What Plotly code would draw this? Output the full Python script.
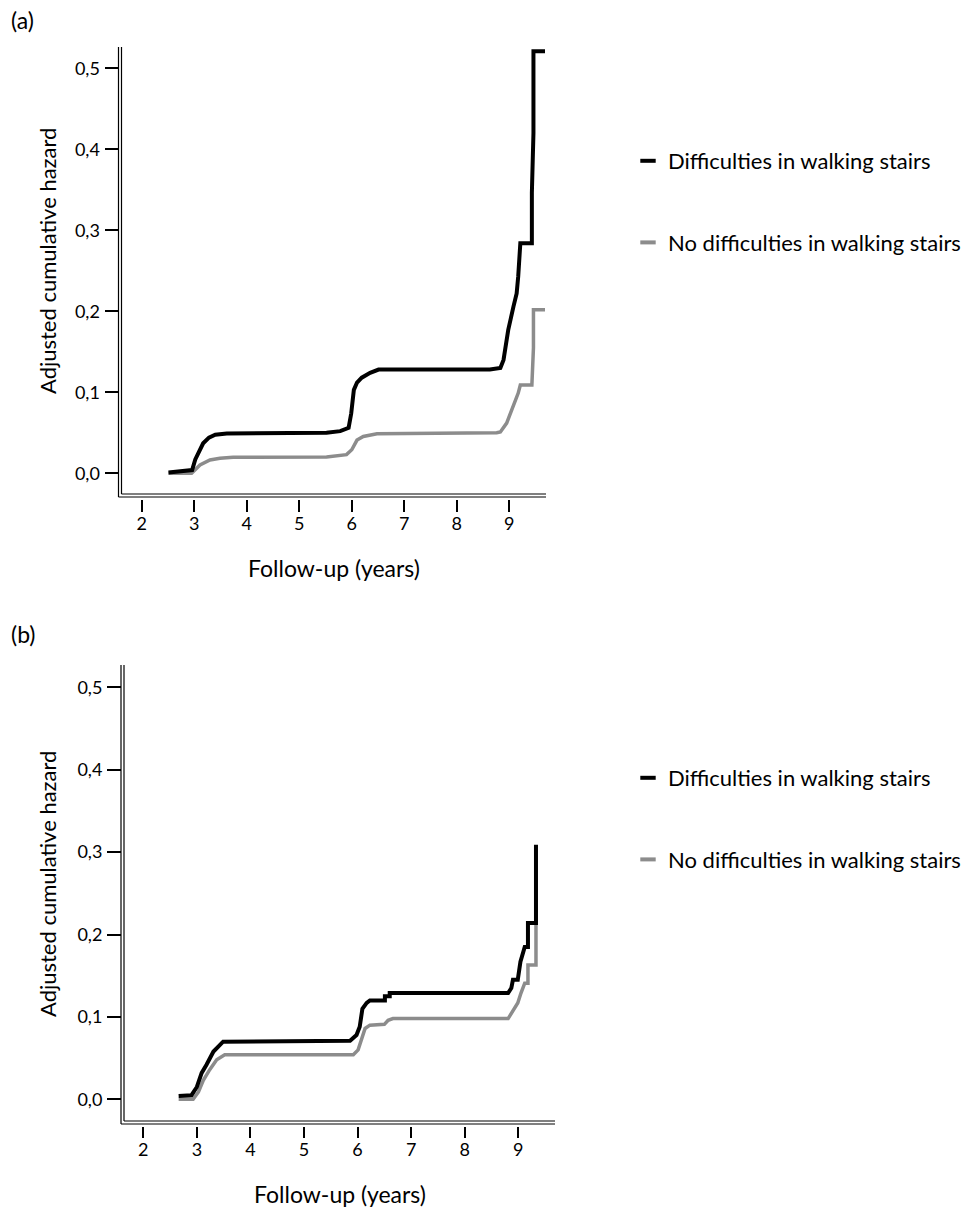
import plotly.graph_objects as go

W, H = 968, 1209

# ---------------- data ----------------
legend_names = ["Difficulties in walking stairs", "No difficulties in walking stairs"]
x_ticks = [2, 3, 4, 5, 6, 7, 8, 9]
y_ticks = [0.0, 0.1, 0.2, 0.3, 0.4, 0.5]

# Panel (a)
a_diff_years = [2.51, 2.91, 2.96, 3.02, 3.10, 3.17, 3.28, 3.40, 3.62, 5.52, 5.78, 5.94, 5.99, 6.04, 6.10,
                6.19, 6.35, 6.51, 8.63, 8.83, 8.89, 8.98, 9.08, 9.14, 9.17, 9.21, 9.43, 9.43, 9.46, 9.46, 9.68]
a_diff_haz = [0.001, 0.003, 0.004, 0.017, 0.028, 0.037, 0.044, 0.0475, 0.049, 0.050, 0.052, 0.056, 0.074,
              0.103, 0.112, 0.118, 0.124, 0.128, 0.128, 0.130, 0.140, 0.177, 0.206, 0.222, 0.243, 0.284,
              0.284, 0.346, 0.420, 0.521, 0.521]
a_nodiff_years = [2.51, 2.95, 3.11, 3.30, 3.49, 3.74, 5.52, 5.90, 6.00, 6.10, 6.22, 6.48, 8.76, 8.83, 8.95,
                  9.08, 9.17, 9.21, 9.43, 9.46, 9.46, 9.68]
a_nodiff_haz = [0.0, 0.0, 0.0103, 0.0165, 0.0186, 0.0198, 0.020, 0.023, 0.029, 0.041, 0.0455, 0.0488, 0.050,
                0.051, 0.062, 0.0825, 0.099, 0.109, 0.109, 0.155, 0.202, 0.202]

# Panel (b)
b_diff_years = [2.66, 2.90, 3.00, 3.09, 3.18, 3.31, 3.40, 3.49, 5.86, 5.98, 6.04, 6.09, 6.17, 6.23, 6.51,
                6.51, 6.60, 6.60, 8.81, 8.87, 8.90, 8.99, 9.04, 9.09, 9.12, 9.18, 9.18, 9.33, 9.33]
b_diff_haz = [0.004, 0.005, 0.015, 0.032, 0.042, 0.058, 0.064, 0.070, 0.071, 0.078, 0.088, 0.110, 0.117,
              0.120, 0.120, 0.125, 0.125, 0.129, 0.129, 0.135, 0.145, 0.145, 0.167, 0.177, 0.185, 0.185,
              0.214, 0.214, 0.309]
b_nodiff_years = [2.66, 2.93, 3.03, 3.12, 3.24, 3.37, 3.52, 5.92, 6.01, 6.07, 6.14, 6.23, 6.50, 6.57, 6.66,
                  8.81, 8.90, 8.99, 9.05, 9.12, 9.18, 9.18, 9.33, 9.33]
b_nodiff_haz = [0.0, 0.0, 0.009, 0.023, 0.036, 0.048, 0.054, 0.054, 0.060, 0.072, 0.086, 0.090, 0.091,
                0.096, 0.098, 0.098, 0.108, 0.117, 0.129, 0.141, 0.141, 0.163, 0.163, 0.238]

# ---------------- styling ----------------
FONT = "Lato"
BLACK = "#000000"
GREY = "#8c8c8c"


def fx(p):
    return p / W


def fy(p):
    return 1 - p / H


panels = [
    dict(key="", lab="(a)", lab_y=20, inner_x=121.5, outer_x=118.5, top=47, inner_y=494, outer_y=497,
         right=546, xr=[1.615, 9.699], yr=[-0.0256, 0.5263], xtick_pos=499, xticklen=12,
         xtitle_y=568, ytitle_y=261, leg_y=140,
         series=[(a_nodiff_years, a_nodiff_haz, GREY, 3.5), (a_diff_years, a_diff_haz, BLACK, 4)]),
    dict(key="2", lab="(b)", lab_y=634, inner_x=124, outer_x=121, top=665, inner_y=1121, outer_y=1124,
         right=555, xr=[1.640, 9.685], yr=[-0.0263, 0.5271], xtick_pos=1126, xticklen=11,
         xtitle_y=1194, ytitle_y=884, leg_y=757,
         series=[(b_nodiff_years, b_nodiff_haz, GREY, 3.5), (b_diff_years, b_diff_haz, BLACK, 4)]),
]

fig = go.Figure()
shapes = []
annotations = []
layout = {}

for p in panels:
    k = p["key"]
    xa, ya = "x" + k, "y" + k
    for xs, ys, col, lw in p["series"]:
        fig.add_trace(go.Scatter(x=xs, y=ys, mode="lines", line=dict(color=col, width=lw),
                                 xaxis=xa, yaxis=ya, showlegend=False, hoverinfo="skip"))
    legkey = "legend" + k
    for i, (name, col) in enumerate(zip(legend_names, [BLACK, GREY])):
        fig.add_trace(go.Scatter(x=[None], y=[None], mode="markers", name=name,
                                 marker=dict(symbol="line-ew", size=11, color=col,
                                             line=dict(width=4, color=col)),
                                 xaxis=xa, yaxis=ya, legend=legkey, legendgroup=f"g{k}{i}",
                                 showlegend=True))
    layout["xaxis" + k] = dict(
        domain=[fx(p["inner_x"]), fx(p["right"])], range=p["xr"], anchor="free",
        position=fy(p["xtick_pos"]), showline=False, showgrid=False, zeroline=False,
        tickmode="array", tickvals=x_ticks, ticks="outside", ticklen=p["xticklen"], tickwidth=2,
        tickcolor=BLACK, tickfont=dict(family=FONT, size=18, color=BLACK), ticklabelstandoff=-4,
        fixedrange=True)
    layout["yaxis" + k] = dict(
        domain=[fy(p["inner_y"]), fy(p["top"])], range=p["yr"], anchor="free",
        position=fx(p["outer_x"]), showline=False, showgrid=False, zeroline=False,
        tickmode="array", tickvals=y_ticks, tickformat=".1f", ticks="outside", ticklen=14,
        tickwidth=2, tickcolor=BLACK, tickfont=dict(family=FONT, size=18, color=BLACK),
        ticklabelstandoff=1, fixedrange=True)
    layout[legkey] = dict(x=fx(628), y=fy(p["leg_y"]), xanchor="left", yanchor="top",
                          font=dict(family=FONT, size=22, color=BLACK), bgcolor="rgba(0,0,0,0)",
                          traceorder="grouped", tracegroupgap=50, itemwidth=30, valign="top")
    # double axis lines
    for (x0, y0, x1, y1) in [
        (p["outer_x"], p["top"], p["outer_x"], p["outer_y"]),
        (p["inner_x"], p["top"], p["inner_x"], p["inner_y"]),
        (p["outer_x"], p["outer_y"], p["right"], p["outer_y"]),
        (p["inner_x"], p["inner_y"], p["right"], p["inner_y"]),
    ]:
        shapes.append(dict(type="line", xref="paper", yref="paper", x0=fx(x0), y0=fy(y0),
                           x1=fx(x1), y1=fy(y1), line=dict(color=BLACK, width=1.2)))
    annotations.append(dict(text="Follow-up (years)", xref="paper", yref="paper",
                            x=fx((p["inner_x"] + p["right"]) / 2), y=fy(p["xtitle_y"]),
                            xanchor="center", yanchor="middle", showarrow=False,
                            font=dict(family=FONT, size=23, color=BLACK)))
    annotations.append(dict(text="Adjusted cumulative hazard", xref="paper", yref="paper",
                            x=fx(47), y=fy(p["ytitle_y"]), textangle=-90,
                            xanchor="center", yanchor="middle", showarrow=False,
                            font=dict(family=FONT, size=22, color=BLACK)))
    annotations.append(dict(text=p["lab"], xref="paper", yref="paper", x=fx(9), y=fy(p["lab_y"]),
                            xanchor="left", yanchor="middle", showarrow=False,
                            font=dict(family=FONT, size=23, color=BLACK)))

fig.update_layout(
    width=W, height=H, margin=dict(l=0, r=0, t=0, b=0),
    paper_bgcolor="white", plot_bgcolor="white", separators=",.",
    shapes=shapes, annotations=annotations, hovermode=False, **layout)

fig.write_html("out.html", config={"displayModeBar": False},
               post_script="document.body.style.margin='0';document.body.style.padding='0';")
